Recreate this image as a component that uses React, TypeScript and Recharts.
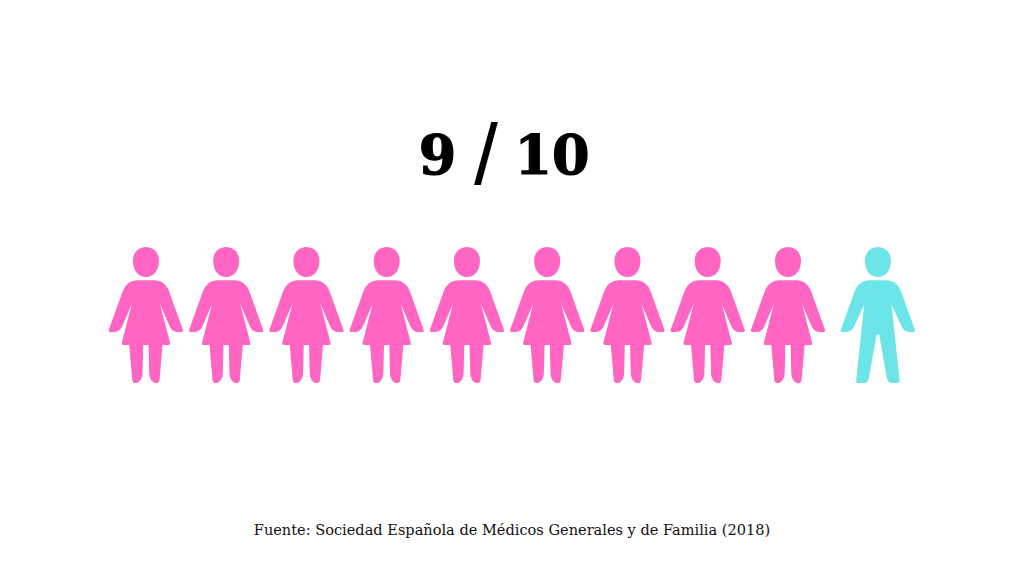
import { BarChart, Bar, XAxis, YAxis } from 'recharts';

// 9 of 10 patients, drawn as one figure per person
const persona = [1, 2, 3, 4, 5, 6, 7, 8, 9, 10.12];
const mujeres = [1, 1, 1, 1, 1, 1, 1, 1, 1, 0];
const hombres = [0, 0, 0, 0, 0, 0, 0, 0, 0, 1];

const titulo = ['9', '/', '10'];
const fuente = 'Fuente: Sociedad Española de Médicos Generales y de Familia (2018)';

const data = persona.map((p, i) => ({ persona: p, mujeres: mujeres[i], hombres: hombres[i] }));

const HEAD = 'M0 0C23 0 39 17 39 42C39 70 23 90 0 90C-23 90 -39 70 -39 42C-39 17 -23 0 0 0Z';

const WOMAN =
  'M-24 100L24 100C46 100 60 112 69 131L110 245C113 252 111 255 105 255L94 255C84 255 76 250 71 238L42 170' +
  'L72 286C74 292 72 294 67 294L50 294L41 398C40 405 37 408 32 408C20 408 11 396 10 380L8 294L-8 294' +
  'L-10 380C-11 396 -20 408 -32 408C-37 408 -40 405 -41 398L-50 294L-67 294C-72 294 -74 292 -72 286' +
  'L-42 170L-71 238C-76 250 -84 255 -94 255L-105 255C-111 255 -113 252 -110 245L-69 131C-60 112 -46 100 -24 100Z';

const MAN =
  'M-24 100L24 100C46 100 60 112 69 131L110 245C113 252 111 255 105 255L94 255C84 255 76 250 71 238L41 173' +
  'L65 398C66 405 63 408 58 408L40 408C33 408 27 400 26 388L4 263L-4 263L-26 388C-27 400 -33 408 -40 408' +
  'L-58 408C-63 408 -66 405 -65 398L-41 173L-71 238C-76 250 -84 255 -94 255L-105 255C-111 255 -113 252 -110 245' +
  'L-69 131C-60 112 -46 100 -24 100Z';

function Figura(props: any) {
  const { x, y, width, height, fill, body } = props;
  if (!height) return null;
  const k = height / 408;
  return (
    <g transform={`translate(${x + width / 2} ${y}) scale(${k})`} fill={fill}>
      <path d={HEAD} />
      <path d={body} />
    </g>
  );
}

export default function App() {
  return (
    <div style={{ position: 'absolute', left: 0, top: 0, width: 1024, height: 576, background: '#fff' }}>
      <BarChart
        width={1024}
        height={576}
        data={data}
        margin={{ top: 247, bottom: 193, left: 65.75, right: 35.25 }}
      >
        <XAxis dataKey="persona" type="number" domain={[0, 11.5]} hide />
        <YAxis type="number" domain={[0, 1]} hide />
        <Bar
          dataKey="mujeres"
          stackId="a"
          barSize={74}
          fill="#FF66C4"
          isAnimationActive={false}
          shape={(p: any) => <Figura {...p} body={WOMAN} />}
        />
        <Bar
          dataKey="hombres"
          stackId="a"
          barSize={74}
          fill="#6CE5E8"
          isAnimationActive={false}
          shape={(p: any) => <Figura {...p} body={MAN} />}
        />
        <text x={437.5} y={174} textAnchor="middle" fontFamily="DejaVu Serif" fontWeight={700} fontSize={54} stroke="#000" strokeWidth={1.2} fill="#000">
          {titulo[0]}
        </text>
        <text x={486} y={184} textAnchor="middle" fontFamily="Liberation Sans" fontWeight={400} fontSize={86} fill="#000">
          {titulo[1]}
        </text>
        <text x={552} y={174} textAnchor="middle" fontFamily="DejaVu Serif" fontWeight={700} fontSize={54} stroke="#000" strokeWidth={1.2} fill="#000">
          {titulo[2]}
        </text>
        <text x={512} y={535} textAnchor="middle" fontFamily="DejaVu Serif" fontSize={14.55} fill="#111">
          {fuente}
        </text>
      </BarChart>
    </div>
  );
}
